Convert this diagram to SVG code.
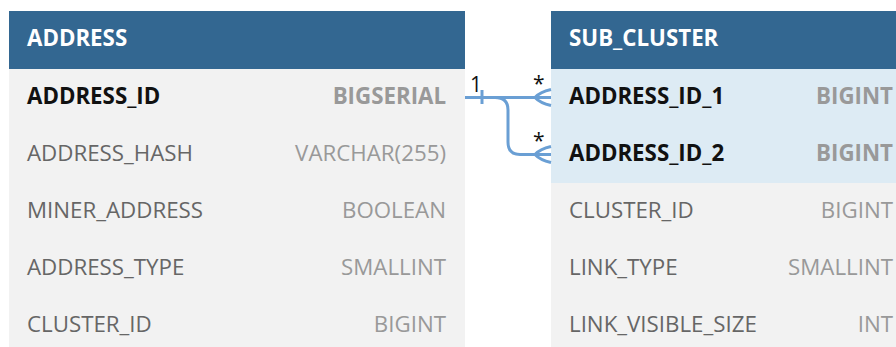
<svg xmlns="http://www.w3.org/2000/svg" width="896" height="347" viewBox="0 0 896 347">
<style>
text{font-family:"Open Sans","Noto Sans","DejaVu Sans",sans-serif;font-size:22.3px}
.hdr{fill:#336791}
.body{fill:#f2f2f2}
.hl{fill:#ddebf4}
.title{fill:#ffffff;font-weight:bold}
.pk{fill:#111111;font-weight:bold}
.pkt{fill:#999999;font-weight:bold;text-anchor:end}
.col{fill:#666666}
.typ{fill:#999999;text-anchor:end}
.conn{fill:none;stroke:#6a9fd4;stroke-width:3}
.lbl{fill:#111111;font-size:21px}
</style>
<g id="address">
<rect class="body" x="9" y="69" width="456" height="278"/>
<rect class="hdr" x="9" y="11" width="456" height="58"/>
<text class="title" x="27" y="46">ADDRESS</text>
<text class="pk" x="27" y="104">ADDRESS_ID</text><text class="pkt" x="446" y="104">BIGSERIAL</text>
<text class="col" x="27" y="161">ADDRESS_HASH</text><text class="typ" x="446" y="161">VARCHAR(255)</text>
<text class="col" x="27" y="218">MINER_ADDRESS</text><text class="typ" x="446" y="218">BOOLEAN</text>
<text class="col" x="27" y="275">ADDRESS_TYPE</text><text class="typ" x="446" y="275">SMALLINT</text>
<text class="col" x="27" y="332">CLUSTER_ID</text><text class="typ" x="446" y="332">BIGINT</text>
</g>
<g id="sub_cluster">
<rect class="body" x="551" y="69" width="360" height="278"/>
<rect class="hl" x="551" y="69" width="360" height="114"/>
<rect class="hdr" x="551" y="11" width="360" height="58"/>
<text class="title" x="569" y="46">SUB_CLUSTER</text>
<text class="pk" x="569" y="104">ADDRESS_ID_1</text><text class="pkt" x="893" y="104">BIGINT</text>
<text class="pk" x="569" y="161">ADDRESS_ID_2</text><text class="pkt" x="893" y="161">BIGINT</text>
<text class="col" x="569" y="218">CLUSTER_ID</text><text class="typ" x="893" y="218">BIGINT</text>
<text class="col" x="569" y="275">LINK_TYPE</text><text class="typ" x="893" y="275">SMALLINT</text>
<text class="col" x="569" y="332">LINK_VISIBLE_SIZE</text><text class="typ" x="893" y="332">INT</text>
</g>
<g id="connectors">
<path class="conn" d="M465 97.5 H551"/>
<path class="conn" d="M482 90 V104"/>
<path class="conn" d="M495 97.5 Q508 97.5 508 110 V142 Q508 154.5 520 154.5 H551"/>
<path class="conn" d="M551 89.5 Q540 92 535 97.5 Q540 103 551 105.5"/>
<path class="conn" d="M551 146.5 Q540 149 535 154.5 Q540 160 551 162.5"/>
<text class="lbl" x="470" y="92">1</text>
<text class="lbl" x="533" y="91">*</text>
<text class="lbl" x="533" y="148">*</text>
</g>
</svg>
